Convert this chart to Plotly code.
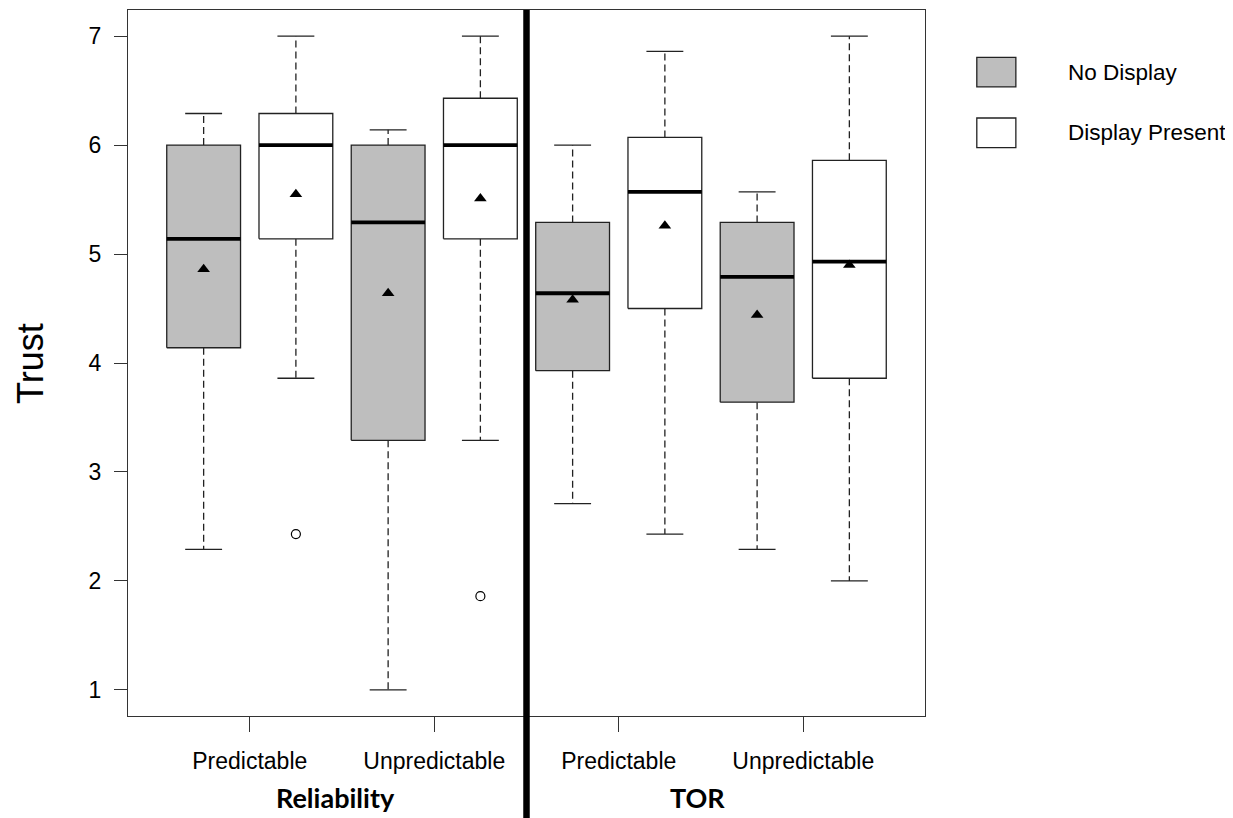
import plotly.graph_objects as go

# ---- data ----
groups = ["Reliability", "Reliability", "Reliability", "Reliability", "TOR", "TOR", "TOR", "TOR"]
conditions = ["Predictable", "Predictable", "Unpredictable", "Unpredictable",
              "Predictable", "Predictable", "Unpredictable", "Unpredictable"]
display = ["No Display", "Display Present"] * 4
positions = [1, 2, 3, 4, 5, 6, 7, 8]

whisker_low = [2.29, 3.86, 1.00, 3.29, 2.71, 2.43, 2.29, 2.00]
q1 = [4.14, 5.14, 3.29, 5.14, 3.93, 4.50, 3.64, 3.86]
median = [5.14, 6.00, 5.29, 6.00, 4.64, 5.57, 4.79, 4.93]
q3 = [6.00, 6.29, 6.00, 6.43, 5.29, 6.07, 5.29, 5.86]
whisker_high = [6.29, 7.00, 6.14, 7.00, 6.00, 6.86, 5.57, 7.00]
means = [4.86, 5.55, 4.64, 5.51, 4.58, 5.26, 4.44, 4.90]
outlier_pos = [2, 4]
outlier_val = [2.43, 1.86]

tick_positions = [1.5, 3.5, 5.5, 7.5]
tick_labels = ["Predictable", "Unpredictable", "Predictable", "Unpredictable"]
group_titles = ["Reliability", "TOR"]
group_title_pos = [2.43, 6.35]
divider_pos = 4.5

fill_colors = {"No Display": "#BEBEBE", "Display Present": "#FFFFFF"}
LINE = "#222222"
HALF = 0.4
CAP = 0.2
FONT = "Liberation Sans, Arial, sans-serif"

fig = go.Figure()

for i, p in enumerate(positions):
    fc = fill_colors[display[i]]
    # whiskers (dashed)
    fig.add_trace(go.Scatter(
        x=[p, p, None, p, p], y=[q3[i], whisker_high[i], None, q1[i], whisker_low[i]],
        mode="lines", line=dict(color=LINE, width=1.3, dash="7px,4px"),
        showlegend=False, hoverinfo="skip"))
    # caps
    fig.add_trace(go.Scatter(
        x=[p - CAP, p + CAP, None, p - CAP, p + CAP],
        y=[whisker_high[i], whisker_high[i], None, whisker_low[i], whisker_low[i]],
        mode="lines", line=dict(color=LINE, width=1.3),
        showlegend=False, hoverinfo="skip"))
    # box
    fig.add_trace(go.Scatter(
        x=[p - HALF, p + HALF, p + HALF, p - HALF, p - HALF],
        y=[q1[i], q1[i], q3[i], q3[i], q1[i]],
        mode="lines", fill="toself", fillcolor=fc,
        line=dict(color=LINE, width=1.3),
        showlegend=False, hoverinfo="skip"))
    # median
    fig.add_trace(go.Scatter(
        x=[p - HALF, p + HALF], y=[median[i], median[i]],
        mode="lines", line=dict(color="#000000", width=3.8),
        showlegend=False, hoverinfo="skip"))

# means
fig.add_trace(go.Scatter(
    x=positions, y=means, mode="markers",
    marker=dict(symbol="triangle-up", size=11, color="#000000"),
    showlegend=False))
# outliers
fig.add_trace(go.Scatter(
    x=outlier_pos, y=outlier_val, mode="markers",
    marker=dict(symbol="circle-open", size=9, color="#000000", line=dict(width=1.2)),
    showlegend=False))

shapes = [
    dict(type="line", xref="x", yref="paper", x0=divider_pos, x1=divider_pos,
         y0=-0.2, y1=1.0, line=dict(color="#000000", width=6.5)),
]
annotations = []
for t, xp in zip(group_titles, group_title_pos):
    annotations.append(dict(text=f"<b>{t}</b>", x=xp, y=-0.115, xref="x", yref="paper",
                            showarrow=False, yanchor="middle", xanchor="center",
                            font=dict(family="Lato, Open Sans, sans-serif", size=27, color="#000")))
annotations.append(dict(text="Trust", x=-0.123, y=0.5, xref="paper", yref="paper",
                        showarrow=False, textangle=-90, xanchor="center", yanchor="middle",
                        font=dict(family=FONT, size=36, color="#000")))

# manual legend
legend_items = ["No Display", "Display Present"]
legend_y = [(0.891, 0.933), (0.805, 0.847)]
for name, (y0, y1) in zip(legend_items, legend_y):
    shapes.append(dict(type="rect", xref="paper", yref="paper",
                       x0=1.065, x1=1.114, y0=y0, y1=y1,
                       fillcolor=fill_colors[name], line=dict(color=LINE, width=1.3)))
    annotations.append(dict(text=name, x=1.177, y=(y0 + y1) / 2, xref="paper", yref="paper",
                            xanchor="left", yanchor="middle", showarrow=False,
                            font=dict(family=FONT, size=22.5, color="#000")))

# page body has an 8px default margin; compensate so the figure lands like the reference
fig.update_layout(
    width=1225, height=810,
    margin=dict(l=120, r=308, t=2, b=102),
    paper_bgcolor="white", plot_bgcolor="white",
    shapes=shapes, annotations=annotations,
    showlegend=False,
    font=dict(family=FONT, color="#000"),
)
fig.update_xaxes(
    range=[0.18, 8.82], tickvals=tick_positions, ticktext=tick_labels,
    ticks="outside", ticklen=15, tickwidth=1.3, tickcolor="#333",
    showline=True, linecolor="#333", linewidth=1.3, mirror=True,
    showgrid=False, zeroline=False, ticklabelstandoff=9,
    tickfont=dict(family=FONT, size=23, color="#000"),
)
fig.update_yaxes(
    range=[0.76, 7.24], tickvals=[1, 2, 3, 4, 5, 6, 7],
    ticks="outside", ticklen=13, tickwidth=1.3, tickcolor="#333",
    showline=True, linecolor="#333", linewidth=1.3, mirror=True,
    showgrid=False, zeroline=False, ticklabelstandoff=8,
    tickfont=dict(family=FONT, size=23, color="#000"),
)

fig.write_html("out.html")
